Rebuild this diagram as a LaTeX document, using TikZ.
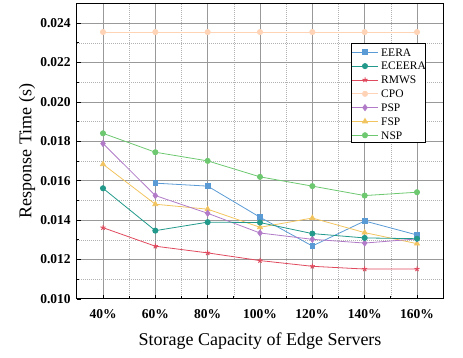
\documentclass[tikz,border=0pt]{standalone}
\usepackage{fontspec}
\setmainfont{Liberation Serif}
\usetikzlibrary{plotmarks}
\definecolor{ceera}{HTML}{5B9BD5}
\definecolor{cece}{HTML}{22998A}
\definecolor{crm}{HTML}{E04A5E}
\definecolor{ccpo}{HTML}{FFD3B5}
\definecolor{cpsp}{HTML}{B17BC8}
\definecolor{cfsp}{HTML}{F2C45F}
\definecolor{cnsp}{HTML}{6DC870}
\tikzset{
  majgrid/.style={draw=black!40, line width=0.9pt},
  mingrid/.style={draw=black!30, line width=0.5pt, dash pattern=on 1pt off 1pt},
  series/.style={line width=0.8pt},
  ticklab/.style={font=\bfseries\fontsize{13.5}{13.5}\selectfont, inner sep=0pt},
  leglab/.style={font=\fontsize{11.5}{11.5}\selectfont, anchor=west, inner sep=0pt},
  sEERA/.style={series, ceera, mark=square*, mark size=2.4pt, mark options={fill=ceera}},
  sECEERA/.style={series, cece, mark=*, mark size=2.6pt, mark options={fill=cece}},
  sRMWS/.style={series, crm, mark=star, mark size=2.6pt, mark options={line width=1pt}},
  sCPO/.style={series, ccpo, mark=*, mark size=2.6pt, mark options={fill=ccpo}},
  sPSP/.style={series, cpsp, mark=diamond*, mark size=3pt, mark options={fill=cpsp}},
  sFSP/.style={series, cfsp, mark=triangle*, mark size=2.9pt, mark options={fill=cfsp}},
  sNSP/.style={series, cnsp, mark=*, mark size=2.6pt, mark options={fill=cnsp}},
}
\begin{document}
\begin{tikzpicture}[x=1pt,y=1pt]
\useasboundingbox (0,0) rectangle (463,358);
\begin{scope}[shift={(103,59)}, x=52.333pt, y=19.7pt]
  % grids
  \foreach \i in {0.5,1.5,...,5.5} \draw[mingrid] (\i,0) -- (\i,15);
  \foreach \j in {1,3,...,13} \draw[mingrid] (-0.5,\j) -- (6.5,\j);
  \foreach \i in {0,...,6} \draw[majgrid] (\i,0) -- (\i,15);
  \foreach \j in {2,4,...,14} \draw[majgrid] (-0.5,\j) -- (6.5,\j);
  % ticks
  \foreach \j in {0,2,...,14} \draw[line width=0.8pt] (-0.5,\j) -- ++(4pt,0);
  \foreach \j in {1,3,...,13} \draw[line width=0.8pt] (-0.5,\j) -- ++(2.5pt,0);
  \foreach \i in {0,...,6} \draw[line width=0.8pt] (\i,0) -- ++(0,4pt);
  \foreach \i in {0.5,1.5,...,5.5} \draw[line width=0.8pt] (\i,0) -- ++(0,2.5pt);
  % frame
  \draw[line width=1pt] (-0.5,0) rectangle (6.5,15);
  % tick labels
  \foreach \j/\l in {0/0.010,2/0.012,4/0.014,6/0.016,8/0.018,10/0.020,12/0.022,14/0.024}
    \node[ticklab, anchor=east] (yl\j) at ([xshift=-6pt]-0.5,\j) {\l};
  \foreach \i/\l in {0/40\%,1/60\%,2/80\%,3/100\%,4/120\%,5/140\%,6/160\%}
    \node[ticklab] (xl\i) at ([yshift=-15pt]\i,0) {\l};
  % series
  \draw[sCPO] plot coordinates {(0,13.55) (1,13.55) (2,13.55) (3,13.55) (4,13.55) (5,13.55) (6,13.55)};
  \draw[sNSP] plot coordinates {(0,8.41) (1,7.45) (2,7.01) (3,6.20) (4,5.73) (5,5.25) (6,5.42)};
  \draw[sEERA] plot coordinates {(1,5.88) (2,5.73) (3,4.15) (4,2.69) (5,3.96) (6,3.25)};
  \draw[sFSP] plot coordinates {(0,6.84) (1,4.81) (2,4.56) (3,3.64) (4,4.11) (5,3.37) (6,2.81)};
  \draw[sPSP] plot coordinates {(0,7.89) (1,5.25) (2,4.35) (3,3.35) (4,3.03) (5,2.84) (6,3.05)};
  \draw[sECEERA] plot coordinates {(0,5.62) (1,3.47) (2,3.90) (3,3.88) (4,3.32) (5,3.10) (6,3.06)};
  \draw[sRMWS] plot coordinates {(0,3.62) (1,2.68) (2,2.34) (3,1.95) (4,1.66) (5,1.52) (6,1.52)};
\end{scope}
% axis titles
\node[font=\fontsize{18}{18}\selectfont] (xt) at (260,17) {Storage Capacity of Edge Servers};
\node[font=\fontsize{18}{18}\selectfont, rotate=90] (yt) at (27,207) {Response Time (s)};
% legend
\node[draw=black, line width=1pt, fill=white, minimum width=74pt, minimum height=99pt, inner sep=0pt] (leg) at (388,264.5) {};
\foreach \k/\t in {0/EERA,1/ECEERA,2/RMWS,3/CPO,4/PSP,5/FSP,6/NSP}{
  \coordinate (la\k) at (352,305.7-13.83*\k);
  \coordinate (lm\k) at (365,305.7-13.83*\k);
  \coordinate (lb\k) at (378,305.7-13.83*\k);
  \draw[s\t] (la\k) -- (lb\k);
  \path[s\t] plot coordinates {(lm\k)};
  \node[leglab] (lt\k) at (381,305.7-13.83*\k) {\t};
}
\end{tikzpicture}
\end{document}
